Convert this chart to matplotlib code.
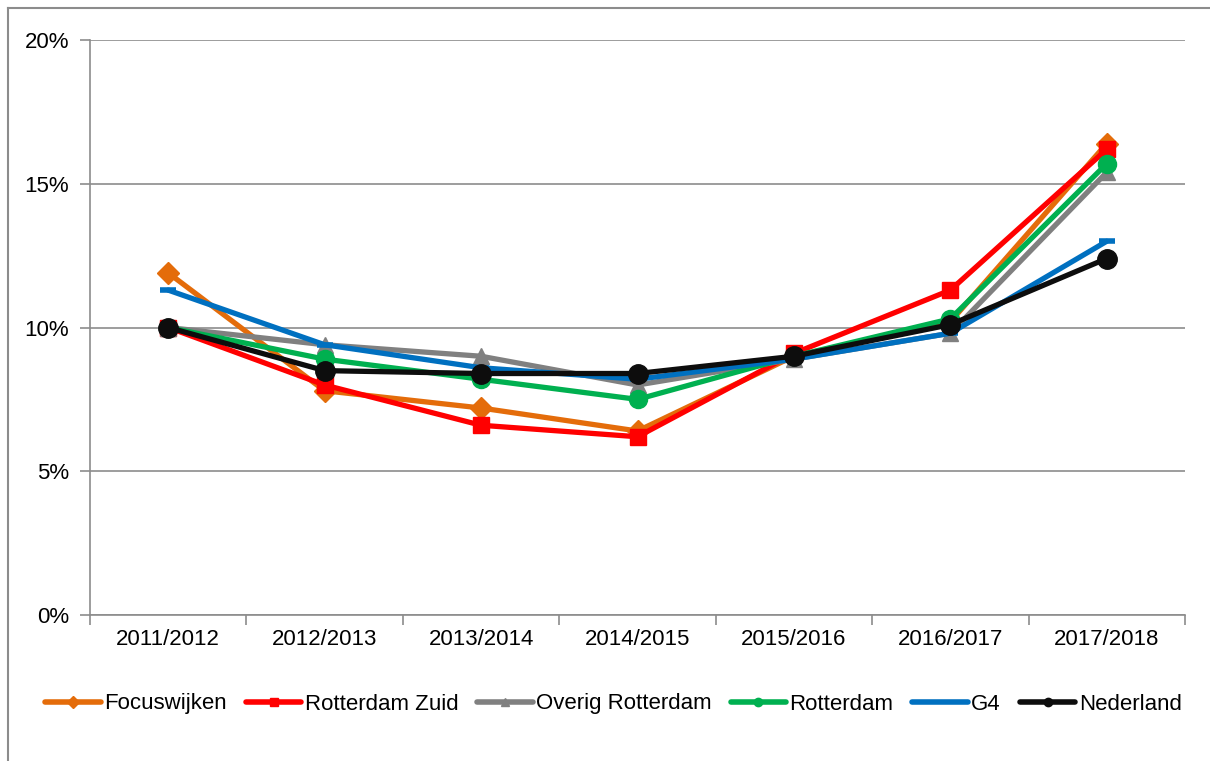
import numpy as np
import matplotlib
matplotlib.use("Agg")
import matplotlib.pyplot as plt
from matplotlib.lines import Line2D

plt.rcParams['font.family'] = ['Liberation Sans', 'DejaVu Sans']

# schooljaren
jaren = ['2011/2012', '2012/2013', '2013/2014', '2014/2015', '2015/2016', '2016/2017', '2017/2018']

# percentages per gebied
focuswijken = [11.9, 7.8, 7.2, 6.4, 9.0, 10.2, 16.4]
rotterdam_zuid = [10.0, 8.0, 6.6, 6.2, 9.1, 11.3, 16.2]
overig_rotterdam = [10.0, 9.4, 9.0, 8.0, 8.9, 9.8, 15.4]
rotterdam = [10.0, 8.9, 8.2, 7.5, 9.0, 10.3, 15.7]
g4 = [11.3, 9.4, 8.6, 8.2, 8.9, 9.8, 13.0]
nederland = [10.0, 8.5, 8.4, 8.4, 9.0, 10.1, 12.4]

reeksen = [
    ('Focuswijken', focuswijken, '#E46C0A', 'D', 11),
    ('Rotterdam Zuid', rotterdam_zuid, '#FF0000', 's', 11),
    ('Overig Rotterdam', overig_rotterdam, '#808080', '^', 12),
    ('Rotterdam', rotterdam, '#00B050', 'o', 13),
    ('G4', g4, '#0070C0', '_', 12),
    ('Nederland', nederland, '#0D0D0D', 'o', 14),
]

fig = plt.figure(figsize=(12.1, 7.61), dpi=100)
ax = fig.add_axes([90 / 1210, 1 - 615 / 761, 1095 / 1210, 575 / 761])

# rand om de figuur
fig.add_artist(Line2D([8 / 1210, 8 / 1210], [0, 1 - 8 / 761], transform=fig.transFigure,
                      color='#8C8C8C', lw=1.5))
fig.add_artist(Line2D([8 / 1210, 1], [1 - 8 / 761, 1 - 8 / 761], transform=fig.transFigure,
                      color='#8C8C8C', lw=1.5))

x = np.arange(len(jaren))
handles = []
for naam, waarden, kleur, marker, ms in reeksen:
    if marker == '_':
        ax.plot(x, waarden, color=kleur, lw=3.8, marker='_', ms=ms, mew=4,
                solid_capstyle='round', zorder=3)
    else:
        ax.plot(x, waarden, color=kleur, lw=3.8, marker=marker, ms=ms,
                mec=kleur, mfc=kleur, zorder=3)
    handles.append(Line2D([], [], color=kleur, lw=4, marker=marker if marker != '_' else None,
                          ms=6, mec=kleur, mfc=kleur, solid_capstyle='round'))

ax.set_xlim(-0.5, len(jaren) - 0.5)
ax.set_ylim(0, 20)
ax.set_yticks([0, 5, 10, 15, 20])
ax.set_yticklabels(['0%', '5%', '10%', '15%', '20%'], fontsize=16)
ax.yaxis.grid(True, color='#8C8C8C', lw=1.2)
ax.set_axisbelow(True)

ax.set_xticks(np.arange(-0.5, len(jaren), 1))
ax.set_xticklabels([])
ax.set_xticks(x, minor=True)
ax.set_xticklabels(jaren, minor=True, fontsize=16)
ax.tick_params(axis='x', which='minor', length=0, pad=10)
ax.tick_params(axis='x', which='major', length=7, color='#8C8C8C', width=1.2)
ax.tick_params(axis='y', length=7, color='#8C8C8C', width=1.2, pad=8)

for s in ['top', 'right']:
    ax.spines[s].set_visible(False)
for s in ['left', 'bottom']:
    ax.spines[s].set_color('#8C8C8C')
    ax.spines[s].set_linewidth(1.2)

fig.legend(handles, [r[0] for r in reeksen], loc='center', bbox_to_anchor=(0.507, 1 - 704 / 761),
           ncol=6, frameon=False, fontsize=16, handlelength=2.5, handletextpad=0.15,
           columnspacing=0.85)

fig.savefig('out.png', dpi=100)
